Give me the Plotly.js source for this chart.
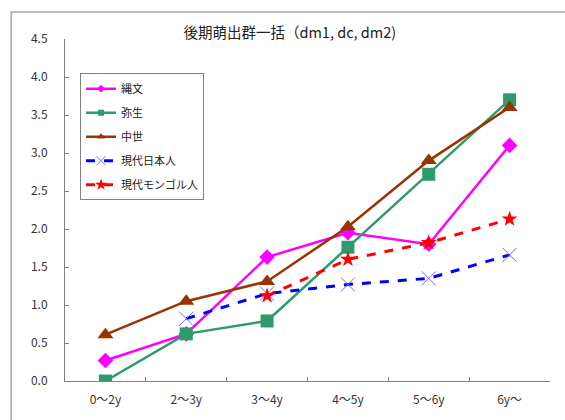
<!DOCTYPE html>
<html>
<head>
<meta charset="utf-8">
<script src="https://cdn.plot.ly/plotly-3.0.1.min.js"></script>
<style>html,body{margin:0;padding:0;background:#fff;}#chart{width:565px;height:420px;}</style>
</head>
<body>
<div id="chart"></div>
<script>
var categories = ["0～2y", "2～3y", "3～4y", "4～5y", "5～6y", "6y～"];
var jomon = [0.27, 0.62, 1.63, 1.95, 1.80, 3.10];
var yayoi = [0.00, 0.62, 0.79, 1.76, 2.72, 3.70];
var chusei = [0.61, 1.05, 1.31, 2.03, 2.90, 3.60];
var gendaiNihon = [null, 0.82, 1.15, 1.27, 1.35, 1.66];
var gendaiMongol = [null, null, 1.12, 1.60, 1.82, 2.13];
var seriesNames = ["縄文", "弥生", "中世", "現代日本人", "現代モンゴル人"];
var yTicks = [0, 0.5, 1, 1.5, 2, 2.5, 3, 3.5, 4, 4.5];
var yTickText = ["0.0","0.5","1.0","1.5","2.0","2.5","3.0","3.5","4.0","4.5"];

var font = '"Noto Sans CJK JP", "Noto Sans", sans-serif';

var styles = [
  {line: {color: "#FF00FF", width: 2.5}, marker: {symbol: "diamond", size: 12, color: "#FF00FF"}, lsize: 6},
  {line: {color: "#2E9B6A", width: 2.5}, marker: {symbol: "square", size: 13, color: "#2E9B6A"}, lsize: 6},
  {line: {color: "#993300", width: 2.5}, marker: {symbol: "triangle-up", size: 14, color: "#993300"}, lsize: 7},
  {line: {color: "#0000FF", width: 3, dash: "dash"}, marker: {symbol: "x-thin-open", size: 14, color: "#6B6BFF", line: {width: 1, color: "#6B6BFF"}}, lsize: 9},
  {line: {color: "#FF0000", width: 3, dash: "dash"}, marker: {symbol: "star", size: 12, color: "#FF0000"}, lsize: 9}
];
var data = [jomon, yayoi, chusei, gendaiNihon, gendaiMongol];
var groups = ["a", "b", "c", "d", "e"];

var traces = [];
data.forEach(function(vals, i) {
  var s = styles[i];
  traces.push({x: categories, y: vals, name: seriesNames[i], showlegend: false,
    mode: "lines+markers", line: s.line, marker: s.marker});
});
data.forEach(function(vals, i) {
  var s = styles[i];
  var m = JSON.parse(JSON.stringify(s.marker));
  m.size = s.lsize;
  traces.push({x: [categories[0]], y: [null], name: seriesNames[i], legendgroup: groups[i],
    mode: "lines+markers", line: s.line, marker: m, hoverinfo: "skip"});
});

var layout = {
  width: 565, height: 420,
  margin: {l: 65, r: 15, t: 39, b: 39},
  paper_bgcolor: "#fff", plot_bgcolor: "#fff",
  font: {family: font, size: 12, color: "#333"},
  title: {text: "後期萌出群一括（dm1, dc, dm2)", font: {family: font, size: 14.5, color: "#222"},
          x: 0.513, xanchor: "center", y: 0.921, yanchor: "middle", xref: "container", yref: "container"},
  xaxis: {type: "category", range: [-0.5, 5.5], showline: true, linecolor: "#808080", linewidth: 1,
          ticks: "inside", ticklen: 4, tickcolor: "#808080", tickson: "boundaries",
          showgrid: false, zeroline: false, fixedrange: true, ticklabelstandoff: 8,
          tickfont: {family: font, size: 12, color: "#333"}},
  yaxis: {range: [0, 4.5], tickvals: yTicks, ticktext: yTickText, showline: true, linecolor: "#808080", linewidth: 1,
          ticks: "inside", ticklen: 4, tickcolor: "#808080", showgrid: false, zeroline: false,
          ticklabelstandoff: 14,
          tickfont: {family: font, size: 12, color: "#333"}},
  showlegend: true,
  legend: {x: 0.031, y: 0.9, xanchor: "left", yanchor: "top", bgcolor: "#fff",
           bordercolor: "#808080", borderwidth: 1, traceorder: "grouped", tracegroupgap: 5,
           font: {family: font, size: 11, color: "#222"}, itemwidth: 30},
  shapes: [
    {type: "rect", xref: "paper", yref: "paper", x0: -0.111, x1: 1.3, y0: -0.3, y1: 1.079,
     line: {color: "#A8A8A8", width: 1.5}, fillcolor: "rgba(0,0,0,0)", layer: "below"}
  ]
};

Plotly.newPlot("chart", traces, layout, {displayModeBar: false, staticPlot: true});
</script>
</body>
</html>
